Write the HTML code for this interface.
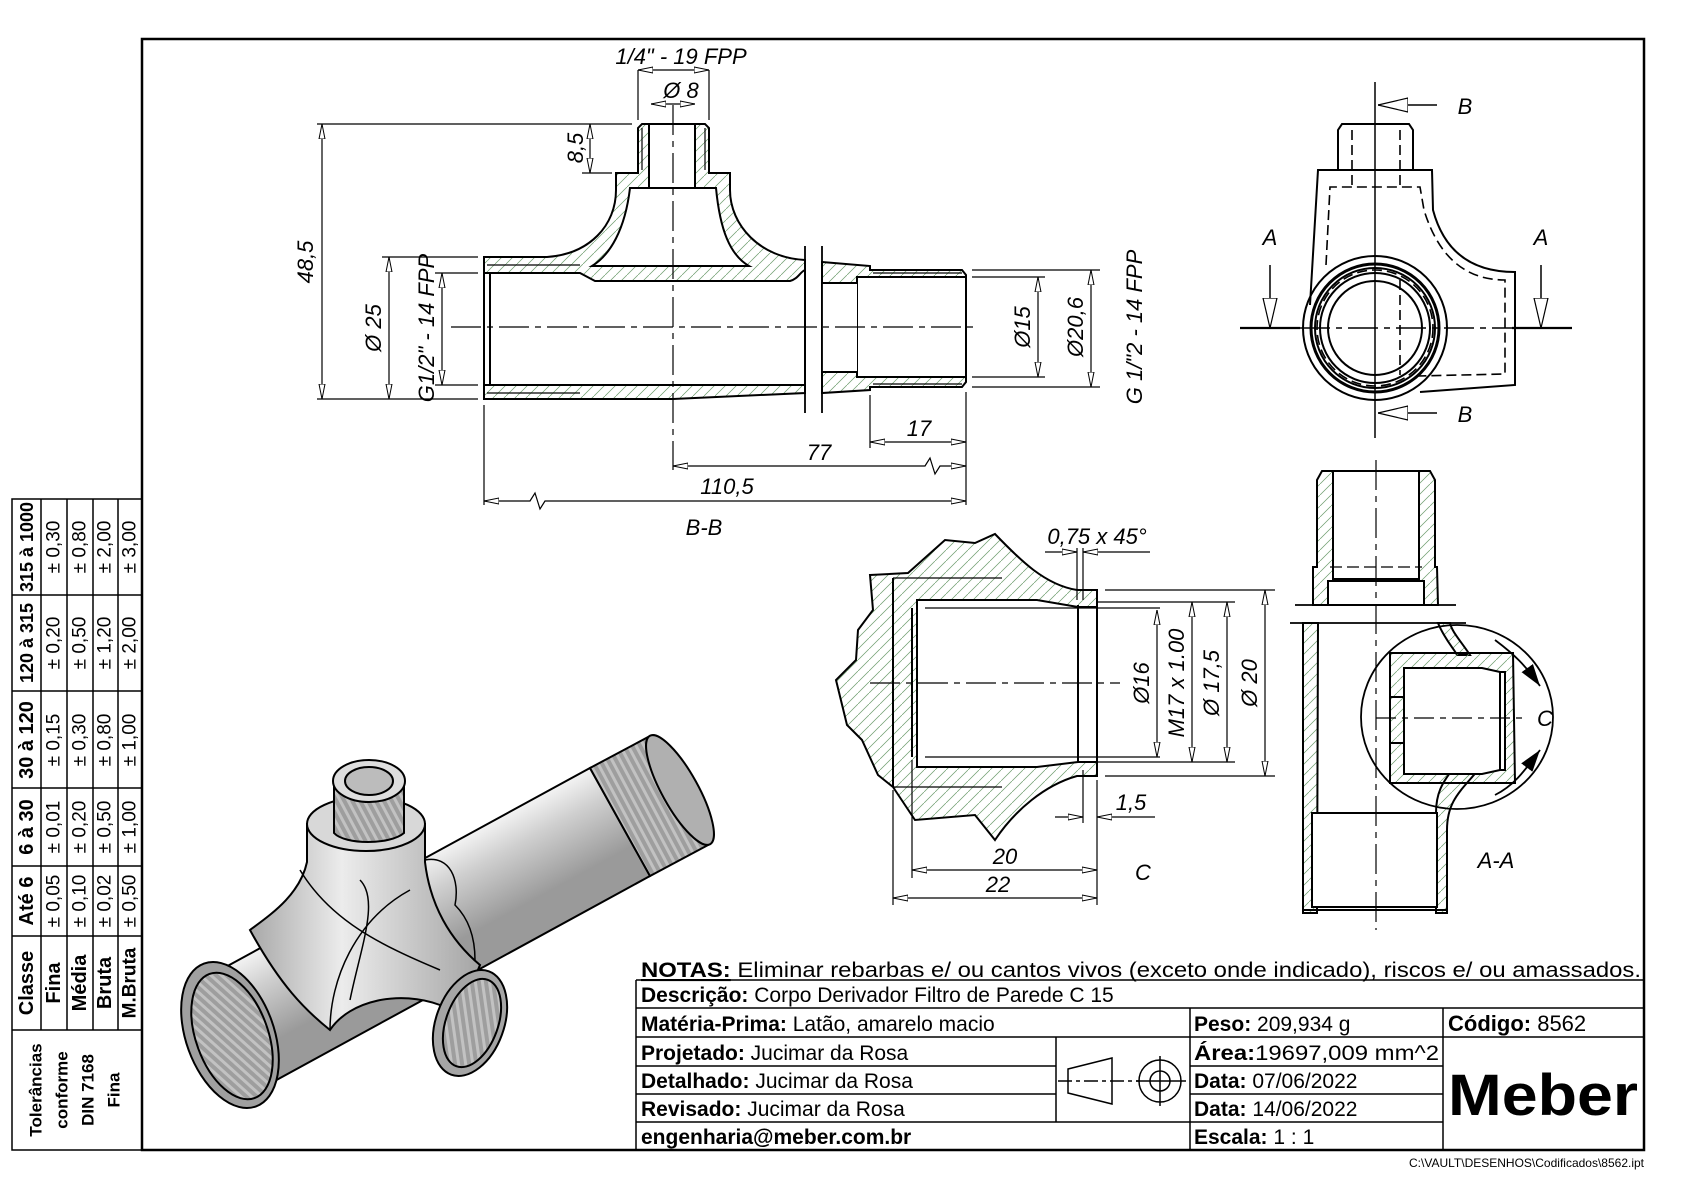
<!DOCTYPE html>
<html><head><meta charset="utf-8"><style>
html,body{margin:0;padding:0;background:#fff}
svg{display:block}
text{font-family:"Liberation Sans",sans-serif;fill:#000}
.d{font-style:italic;font-size:22px}
.t{font-size:20px}
.b{font-weight:bold}
</style></head><body>
<svg width="1684" height="1190" viewBox="0 0 1684 1190" xmlns="http://www.w3.org/2000/svg">
<defs>
<pattern id="h" patternUnits="userSpaceOnUse" width="11" height="11"><path d="M-1,12 L12,-1" stroke="#6b9c6b" stroke-width="0.7"/></pattern>
<marker id="a" viewBox="0 -4 15 8" refX="15" refY="0" markerWidth="15" markerHeight="8" markerUnits="userSpaceOnUse" orient="auto-start-reverse"><path d="M0,-3 L15,0 L0,3 Z" fill="#fff" stroke="#000" stroke-width="1"/></marker>
<marker id="f" viewBox="0 -8 22 16" refX="22" refY="0" markerWidth="22" markerHeight="16" markerUnits="userSpaceOnUse" orient="auto"><path d="M0,-7 L22,0 L0,7 Z" fill="#000"/></marker>
<marker id="w" viewBox="0 -8 30 16" refX="30" refY="0" markerWidth="30" markerHeight="16" markerUnits="userSpaceOnUse" orient="auto"><path d="M0,-7 L30,0 L0,7 Z" fill="#fff" stroke="#000" stroke-width="1.2"/></marker>
<linearGradient id="g" gradientUnits="userSpaceOnUse" x1="400" y1="830" x2="460" y2="940"><stop offset="0" stop-color="#b5b5b5"/><stop offset="0.3" stop-color="#f2f2f2"/><stop offset="0.55" stop-color="#cfcfcf"/><stop offset="1" stop-color="#9a9a9a"/></linearGradient>
<linearGradient id="g2" x1="0" y1="0" x2="1" y2="0"><stop offset="0" stop-color="#a8a8a8"/><stop offset="0.4" stop-color="#ececec"/><stop offset="1" stop-color="#a5a5a5"/></linearGradient>
<pattern id="th" patternUnits="userSpaceOnUse" width="7" height="7" patternTransform="rotate(-28)"><rect width="7" height="7" fill="#9e9e9e"/><rect width="3" height="7" fill="#c2c2c2"/></pattern>
</defs>

<rect x="142" y="39" width="1502" height="1111" fill="none" stroke="#000" stroke-width="2.5"/>

<!-- ===== Section B-B ===== -->
<g stroke="#000" stroke-width="2">
<path d="M484,257 L547,257 C590,254 616,225 616,190 L616,173 L638,173 L638,128 L642,124 L705,124 L709,128 L709,173 L730,173 L730,190 C730,225 760,258 805,260 L805,393 L673,399 L484,399 Z" fill="url(#h)"/>
<path d="M484,273 L580,273 L595,281 L790,281 C798,279 800,272 805,270 L805,385 L484,385 Z" fill="#fff"/>
<path d="M630,188 L716,188 C720,230 730,255 749,266 L592,266 C610,255 625,230 630,188 Z" fill="#fff"/>
<rect x="649" y="124" width="46" height="64" fill="#fff"/>
<path d="M822,262 L870,266 L870,270 L962,270 L966,275 L966,382 L962,387 L870,387 L870,390 L822,393 Z" fill="url(#h)"/>
<rect x="857" y="277" width="109" height="100" fill="#fff"/>
<rect x="822" y="283" width="35" height="89" fill="#fff" stroke="none"/>
<line x1="822" y1="283" x2="857" y2="283"/><line x1="822" y1="372" x2="857" y2="372"/>
<line x1="490" y1="273" x2="490" y2="385"/>
</g>
<g stroke="#000" stroke-width="1.2" fill="none">
<line x1="642" y1="128" x2="642" y2="170"/><line x1="705" y1="128" x2="705" y2="170"/>
<line x1="487" y1="265" x2="580" y2="265"/><line x1="487" y1="393" x2="580" y2="393"/>
<line x1="873" y1="273" x2="962" y2="273"/><line x1="873" y1="384" x2="962" y2="384"/>
<line x1="805" y1="246" x2="805" y2="413" stroke-width="1.8"/><line x1="822" y1="246" x2="822" y2="413" stroke-width="1.8"/>
<path d="M451,327 L976,327" stroke-dasharray="30,6,6,6"/>
<path d="M673,105 L673,470" stroke-dasharray="30,6,6,6"/>
<line x1="317" y1="124" x2="632" y2="124"/><line x1="317" y1="399" x2="478" y2="399"/>
<line x1="382" y1="257" x2="478" y2="257"/><line x1="435" y1="273" x2="478" y2="273"/><line x1="435" y1="385" x2="478" y2="385"/>
<line x1="582" y1="173" x2="612" y2="173"/>
<line x1="638" y1="70" x2="638" y2="120"/><line x1="709" y1="70" x2="709" y2="120"/>
<line x1="972" y1="270" x2="1100" y2="270"/><line x1="972" y1="387" x2="1100" y2="387"/>
<line x1="972" y1="277" x2="1045" y2="277"/><line x1="972" y1="377" x2="1045" y2="377"/>
<line x1="484" y1="405" x2="484" y2="505"/><line x1="966" y1="392" x2="966" y2="505"/><line x1="870" y1="395" x2="870" y2="448"/>
<line x1="322" y1="124" x2="322" y2="399" marker-start="url(#a)" marker-end="url(#a)"/>
<line x1="389" y1="257" x2="389" y2="399" marker-start="url(#a)" marker-end="url(#a)"/>
<line x1="442" y1="273" x2="442" y2="385" marker-start="url(#a)" marker-end="url(#a)"/>
<line x1="590" y1="124" x2="590" y2="173" marker-start="url(#a)" marker-end="url(#a)"/>
<line x1="638" y1="70" x2="709" y2="70" marker-start="url(#a)" marker-end="url(#a)"/>
<line x1="651" y1="104" x2="695" y2="104" marker-start="url(#a)" marker-end="url(#a)"/>
<line x1="1038" y1="277" x2="1038" y2="377" marker-start="url(#a)" marker-end="url(#a)"/>
<line x1="1091" y1="270" x2="1091" y2="387" marker-start="url(#a)" marker-end="url(#a)"/>
<line x1="870" y1="442" x2="966" y2="442" marker-start="url(#a)" marker-end="url(#a)"/>
<path d="M673,466 L925,466 L930,458 L935,474 L940,466 L966,466" marker-start="url(#a)" marker-end="url(#a)"/>
<path d="M484,501 L530,501 L535,493 L540,509 L545,501 L966,501" marker-start="url(#a)" marker-end="url(#a)"/>
</g>
<text class="d" x="681" y="64" text-anchor="middle">1/4" - 19 FPP</text>
<text class="d" x="681" y="98" text-anchor="middle">Ø 8</text>
<text class="d" transform="translate(313,262) rotate(-90)" text-anchor="middle">48,5</text>
<text class="d" transform="translate(583,148) rotate(-90)" text-anchor="middle">8,5</text>
<text class="d" transform="translate(381,328) rotate(-90)" text-anchor="middle">Ø 25</text>
<text class="d" transform="translate(434,328) rotate(-90)" text-anchor="middle">G1/2" - 14 FPP</text>
<text class="d" transform="translate(1030,327) rotate(-90)" text-anchor="middle">Ø15</text>
<text class="d" transform="translate(1083,327) rotate(-90)" text-anchor="middle">Ø20,6</text>
<text class="d" transform="translate(1142,327) rotate(-90)" text-anchor="middle">G 1/"2 - 14 FPP</text>
<text class="d" x="919" y="436" text-anchor="middle">17</text>
<text class="d" x="819" y="460" text-anchor="middle">77</text>
<text class="d" x="727" y="494" text-anchor="middle">110,5</text>
<text class="d" x="704" y="535" text-anchor="middle">B-B</text>

<!-- ===== Top view ===== -->
<g stroke="#000" stroke-width="2" fill="none">
<path d="M1342,124 L1409,124 L1413,130 L1413,170 L1338,170 L1338,130 Z"/>
<path d="M1310,305 L1318,170 L1432,170 L1433,210 C1445,255 1475,272 1515,272 L1515,385 L1420,392"/>
<circle cx="1375" cy="328" r="72"/>
<circle cx="1375" cy="328" r="64" stroke-width="3"/>
<circle cx="1375" cy="328" r="60"/>
<circle cx="1375" cy="328" r="55"/>
<circle cx="1375" cy="328" r="47"/>
</g>
<g stroke="#000" stroke-width="1.6" fill="none" stroke-dasharray="10,5">
<path d="M1326,265 L1330,187 L1420,187 L1424,210 C1440,262 1470,280 1505,280 L1505,374 L1417,376"/>
<path d="M1352,130 L1352,187 M1400,130 L1400,187"/>
<circle cx="1375" cy="328" r="58"/>
<path d="M1400,280 L1400,375"/>
</g>
<g stroke="#000" stroke-width="1.5" fill="none">
<line x1="1375" y1="82" x2="1375" y2="438"/>
<path d="M1300,328 L1512,328" stroke-dasharray="30,6,6,6"/>
<line x1="1240" y1="328" x2="1300" y2="328" stroke-width="2.2"/><line x1="1512" y1="328" x2="1572" y2="328" stroke-width="2.2"/>
<line x1="1437" y1="105" x2="1378" y2="105" marker-end="url(#w)"/>
<line x1="1437" y1="413" x2="1378" y2="413" marker-end="url(#w)"/>
<line x1="1270" y1="265" x2="1270" y2="328" marker-end="url(#w)"/>
<line x1="1541" y1="265" x2="1541" y2="328" marker-end="url(#w)"/>
</g>
<text class="d" x="1465" y="114" text-anchor="middle">B</text>
<text class="d" x="1465" y="422" text-anchor="middle">B</text>
<text class="d" x="1270" y="245" text-anchor="middle">A</text>
<text class="d" x="1541" y="245" text-anchor="middle">A</text>

<!-- ===== Detail C ===== -->
<g stroke="#000" stroke-width="2">
<path d="M870,575 L908,573 L945,540 L975,543 L995,534 C1020,560 1045,585 1077,590 L1097,590 L1097,776 L1077,776 C1045,785 1015,810 995,840 L975,815 L915,820 L893,787 L878,775 L862,740 L847,725 L836,680 L856,660 L858,630 L873,610 Z" fill="url(#h)"/>
<path d="M917,600 L1037,600 L1078,607 L1097,607 L1097,762 L1078,762 L1037,767 L917,767 Z" fill="#fff"/>
<path d="M893,578 L893,787" fill="none"/>
<line x1="912" y1="608" x2="912" y2="757"/>
<line x1="1078" y1="605" x2="1078" y2="762"/>
</g>
<g stroke="#000" stroke-width="1.2" fill="none">
<path d="M893,578 L1002,578 M893,787 L1002,787"/>
<line x1="925" y1="608" x2="1160" y2="608"/><line x1="925" y1="757" x2="1160" y2="757"/>
<path d="M870,683 L1120,683" stroke-dasharray="30,6,6,6"/>
<line x1="1105" y1="590" x2="1275" y2="590"/><line x1="1105" y1="776" x2="1275" y2="776"/>
<line x1="1097" y1="602" x2="1235" y2="602"/><line x1="1097" y1="762" x2="1235" y2="762"/>
<line x1="1157" y1="610" x2="1157" y2="757" marker-start="url(#a)" marker-end="url(#a)"/>
<line x1="1192" y1="602" x2="1192" y2="762" marker-start="url(#a)" marker-end="url(#a)"/>
<line x1="1227" y1="602" x2="1227" y2="762" marker-start="url(#a)" marker-end="url(#a)"/>
<line x1="1265" y1="590" x2="1265" y2="776" marker-start="url(#a)" marker-end="url(#a)"/>
<line x1="1077" y1="548" x2="1077" y2="600"/><line x1="1083" y1="548" x2="1083" y2="600"/>
<line x1="1045" y1="552" x2="1077" y2="552" marker-end="url(#a)"/><line x1="1150" y1="552" x2="1083" y2="552" marker-end="url(#a)"/>
<line x1="1083" y1="770" x2="1083" y2="823"/>
<line x1="1055" y1="817" x2="1083" y2="817" marker-end="url(#a)"/><line x1="1155" y1="817" x2="1097" y2="817" marker-end="url(#a)"/>
<line x1="1097" y1="780" x2="1097" y2="905"/><line x1="912" y1="760" x2="912" y2="878"/><line x1="893" y1="790" x2="893" y2="905"/>
<line x1="912" y1="870" x2="1097" y2="870" marker-start="url(#a)" marker-end="url(#a)"/>
<line x1="893" y1="898" x2="1097" y2="898" marker-start="url(#a)" marker-end="url(#a)"/>
</g>
<text class="d" x="1097" y="544" text-anchor="middle">0,75 x 45°</text>
<text class="d" x="1131" y="810" text-anchor="middle">1,5</text>
<text class="d" x="1005" y="864" text-anchor="middle">20</text>
<text class="d" x="998" y="892" text-anchor="middle">22</text>
<text class="d" x="1143" y="880" text-anchor="middle">C</text>
<text class="d" transform="translate(1149,683) rotate(-90)" text-anchor="middle">Ø16</text>
<text class="d" transform="translate(1184,683) rotate(-90)" text-anchor="middle">M17 x 1.00</text>
<text class="d" transform="translate(1219,683) rotate(-90)" text-anchor="middle">Ø 17,5</text>
<text class="d" transform="translate(1257,683) rotate(-90)" text-anchor="middle">Ø 20</text>

<!-- ===== A-A ===== -->
<g stroke="#000" stroke-width="2">
<path d="M1317,567 L1317,480 L1322,471 L1430,471 L1435,480 L1435,567 L1437,567 L1438,605 L1313,605 L1313,567 Z" fill="url(#h)"/>
<rect x="1333" y="471" width="86" height="108" fill="#fff"/>
<path d="M1328,581 L1424,581 L1424,605 L1328,605 Z" fill="#fff"/>
<path d="M1303,623 L1318,623 L1317,913 L1303,913 Z" fill="url(#h)"/>
<path d="M1436,813 C1436,790 1445,780 1452,770 L1478,770 C1462,790 1447,800 1447,830 L1447,913 L1436,913 Z" fill="url(#h)"/>
<rect x="1312" y="813" width="125" height="94" fill="#fff"/>
<line x1="1303" y1="910" x2="1447" y2="910"/>
<path d="M1438,623 C1445,640 1455,650 1457,655 L1470,655 C1460,640 1452,632 1450,623 Z" fill="url(#h)"/>
<path d="M1390,653 L1513,653 L1515,783 L1390,783 Z" fill="url(#h)"/>
<path d="M1404,668 L1482,668 L1500,672 L1505,672 L1505,770 L1500,770 L1482,774 L1404,774 Z" fill="#fff"/>
<line x1="1500" y1="672" x2="1500" y2="770"/>
<line x1="1390" y1="697" x2="1404" y2="697"/><line x1="1390" y1="743" x2="1404" y2="743"/>
<line x1="1295" y1="605" x2="1456" y2="605" stroke-width="1.8"/>
<line x1="1290" y1="623" x2="1466" y2="623" stroke-width="1.8"/>
</g>
<g stroke="#000" stroke-width="1.8" fill="none">
<ellipse cx="1457" cy="717" rx="96" ry="92"/>
<path d="M1495,640 C1515,655 1525,665 1540,686" marker-end="url(#f)"/>
<path d="M1495,795 C1515,785 1525,770 1540,750" marker-end="url(#f)"/>
</g>
<g stroke="#000" stroke-width="1.2" fill="none">
<path d="M1376,460 L1376,930" stroke-dasharray="30,6,6,6"/>
<path d="M1376,718 L1528,718" stroke-dasharray="20,6,6,6"/>
<line x1="1330" y1="567" x2="1422" y2="567" stroke-dasharray="12,5"/>
</g>
<text class="d" x="1545" y="726" text-anchor="middle">C</text>
<text class="d" x="1496" y="868" text-anchor="middle">A-A</text>

<!-- ===== Isometric ===== -->
<g stroke="#000" stroke-width="2">
<path d="M200,981 L590,768 L650,876 L260,1089 Z" fill="url(#g)"/>
<path d="M590,768 L650,736 L710,844 L650,876 Z" fill="url(#th)"/>
<ellipse cx="680" cy="790" rx="18" ry="62" transform="rotate(-29 680 790)" fill="#b0b0b0"/>
<path d="M307,824 L307,862 C300,895 270,915 250,930 C280,985 305,1010 330,1030 C350,1000 400,990 440,1005 C460,995 475,980 480,965 C450,940 430,905 425,862 L425,824 Z" fill="url(#g2)"/>
<path d="M425,860 C450,855 460,880 455,905 C470,920 475,940 475,960" fill="none" stroke-width="1.5"/>
<path d="M300,870 C330,920 380,945 440,970" fill="none" stroke-width="1.5"/>
<path d="M330,1030 C330,980 355,920 410,890" fill="none" stroke-width="1.5"/>
<path d="M350,1000 C360,950 380,900 360,880" fill="none" stroke-width="1.5"/>
<ellipse cx="366" cy="824" rx="59" ry="27" fill="#d8d8d8"/>
<path d="M334,781 L334,833 C345,845 390,845 404,833 L404,781 Z" fill="url(#th)"/>
<ellipse cx="369" cy="781" rx="36" ry="21" fill="#dedede"/>
<ellipse cx="369" cy="781" rx="24" ry="14" fill="#bcbcbc"/>
<ellipse cx="230" cy="1035" rx="44" ry="76" transform="rotate(-20 230 1035)" fill="#a0a0a0"/>
<ellipse cx="232" cy="1036" rx="36" ry="66" transform="rotate(-20 232 1036)" fill="url(#th)"/>
<ellipse cx="470" cy="1023" rx="34" ry="55" transform="rotate(20 470 1023)" fill="#a5a5a5"/>
<ellipse cx="472" cy="1023" rx="26" ry="46" transform="rotate(20 472 1023)" fill="url(#th)"/>
</g>

<!-- ===== Tolerance table ===== -->
<g stroke="#000" stroke-width="1.5" fill="none">
<rect x="12" y="499" width="130" height="651"/>
<line x1="41" y1="499" x2="41" y2="1030"/><line x1="67" y1="499" x2="67" y2="1030"/><line x1="93" y1="499" x2="93" y2="1030"/><line x1="118" y1="499" x2="118" y2="1030"/>
<line x1="12" y1="595" x2="142" y2="595"/><line x1="12" y1="691" x2="142" y2="691"/><line x1="12" y1="788" x2="142" y2="788"/><line x1="12" y1="866" x2="142" y2="866"/><line x1="12" y1="936" x2="142" y2="936"/><line x1="12" y1="1030" x2="142" y2="1030"/>
</g>
<g font-size="19" text-anchor="middle" dominant-baseline="central">
<g font-weight="bold" font-size="20">
<text transform="translate(27,983) rotate(-90)">Classe</text>
<text transform="translate(27,901) rotate(-90)">Até 6</text>
<text transform="translate(27,827) rotate(-90)">6 à 30</text>
<text transform="translate(27,740) rotate(-90)">30 à 120</text>
<text transform="translate(27,643) rotate(-90)" font-size="18">120 à 315</text>
<text transform="translate(27,547) rotate(-90)" font-size="18">315 à 1000</text>
<text transform="translate(54,983) rotate(-90)">Fina</text>
<text transform="translate(80,983) rotate(-90)">Média</text>
<text transform="translate(105,983) rotate(-90)">Bruta</text>
<text transform="translate(130,983) rotate(-90)" font-size="19">M.Bruta</text>
<text transform="translate(36,1090) rotate(-90)" font-size="17">Tolerâncias</text>
<text transform="translate(62,1090) rotate(-90)" font-size="17">conforme</text>
<text transform="translate(88,1090) rotate(-90)" font-size="17">DIN 7168</text>
<text transform="translate(114,1090) rotate(-90)" font-size="17">Fina</text>
</g>
<text transform="translate(54,901) rotate(-90)">± 0,05</text><text transform="translate(80,901) rotate(-90)">± 0,10</text><text transform="translate(105,901) rotate(-90)">± 0,02</text><text transform="translate(130,901) rotate(-90)">± 0,50</text>
<text transform="translate(54,827) rotate(-90)">± 0,01</text><text transform="translate(80,827) rotate(-90)">± 0,20</text><text transform="translate(105,827) rotate(-90)">± 0,50</text><text transform="translate(130,827) rotate(-90)">± 1,00</text>
<text transform="translate(54,740) rotate(-90)">± 0,15</text><text transform="translate(80,740) rotate(-90)">± 0,30</text><text transform="translate(105,740) rotate(-90)">± 0,80</text><text transform="translate(130,740) rotate(-90)">± 1,00</text>
<text transform="translate(54,643) rotate(-90)">± 0,20</text><text transform="translate(80,643) rotate(-90)">± 0,50</text><text transform="translate(105,643) rotate(-90)">± 1,20</text><text transform="translate(130,643) rotate(-90)">± 2,00</text>
<text transform="translate(54,547) rotate(-90)">± 0,30</text><text transform="translate(80,547) rotate(-90)">± 0,80</text><text transform="translate(105,547) rotate(-90)">± 2,00</text><text transform="translate(130,547) rotate(-90)">± 3,00</text>
</g>

<!-- ===== Title block ===== -->
<g stroke="#000" stroke-width="1.5" fill="none">
<line x1="636" y1="980" x2="1644" y2="980"/>
<line x1="636" y1="980" x2="636" y2="1150"/>
<line x1="636" y1="1008" x2="1644" y2="1008"/>
<line x1="636" y1="1037" x2="1644" y2="1037"/>
<line x1="636" y1="1066" x2="1056" y2="1066"/><line x1="1190" y1="1066" x2="1443" y2="1066"/>
<line x1="636" y1="1094" x2="1056" y2="1094"/><line x1="1190" y1="1094" x2="1443" y2="1094"/>
<line x1="636" y1="1122" x2="1443" y2="1122"/>
<line x1="1056" y1="1037" x2="1056" y2="1122"/>
<line x1="1190" y1="1008" x2="1190" y2="1150"/>
<line x1="1443" y1="1008" x2="1443" y2="1150"/>
<path d="M1068,1069 L1112,1058 L1112,1104 L1068,1093 Z"/>
<line x1="1058" y1="1081" x2="1140" y2="1081" stroke-dasharray="14,4,4,4"/>
<circle cx="1160" cy="1081" r="21"/><circle cx="1160" cy="1081" r="10"/>
<line x1="1136" y1="1081" x2="1186" y2="1081"/><line x1="1160" y1="1056" x2="1160" y2="1106"/>
</g>
<g class="t">
<text x="641" y="977" font-size="21" textLength="1000" lengthAdjust="spacingAndGlyphs"><tspan class="b" text-decoration="underline">NOTAS:</tspan> Eliminar rebarbas e/ ou cantos vivos (exceto onde indicado), riscos e/ ou amassados.</text>
<text x="641" y="1002" font-size="21"><tspan class="b">Descrição:</tspan> Corpo Derivador Filtro de Parede C 15</text>
<text x="641" y="1031" font-size="21"><tspan class="b">Matéria-Prima:</tspan> Latão, amarelo macio</text>
<text x="641" y="1060" font-size="21"><tspan class="b">Projetado:</tspan> Jucimar da Rosa</text>
<text x="641" y="1088" font-size="21"><tspan class="b">Detalhado:</tspan> Jucimar da Rosa</text>
<text x="641" y="1116" font-size="21"><tspan class="b">Revisado:</tspan> Jucimar da Rosa</text>
<text x="641" y="1144" font-size="21" class="b">engenharia@meber.com.br</text>
<text x="1194" y="1031" font-size="21"><tspan class="b">Peso:</tspan> 209,934 g</text>
<text x="1194" y="1060" font-size="21" textLength="245" lengthAdjust="spacingAndGlyphs"><tspan class="b">Área:</tspan>19697,009 mm^2</text>
<text x="1194" y="1088" font-size="21"><tspan class="b">Data:</tspan> 07/06/2022</text>
<text x="1194" y="1116" font-size="21"><tspan class="b">Data:</tspan> 14/06/2022</text>
<text x="1194" y="1144" font-size="21"><tspan class="b">Escala:</tspan> 1 : 1</text>
<text x="1448" y="1031" font-size="22"><tspan class="b">Código:</tspan> 8562</text>
<text x="1543" y="1115" font-size="58" font-weight="bold" text-anchor="middle" textLength="190" lengthAdjust="spacingAndGlyphs">Meber</text>
</g>
<text x="1644" y="1167" font-size="12" text-anchor="end">C:\VAULT\DESENHOS\Codificados\8562.ipt</text>
</svg>
</body></html>
